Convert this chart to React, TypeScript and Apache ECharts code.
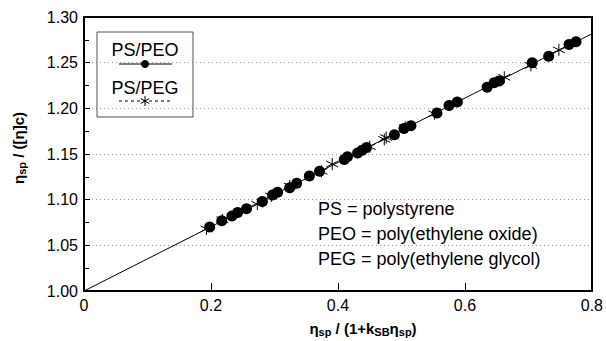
import React, { useEffect, useRef } from "react";
import * as echarts from "echarts";

// PS/PEO (filled circles)
const peoX = [0.198, 0.217, 0.233, 0.242, 0.256, 0.281, 0.297, 0.305, 0.324, 0.335, 0.355, 0.371, 0.41, 0.415, 0.431, 0.438, 0.445, 0.489, 0.504, 0.515, 0.556, 0.575, 0.588, 0.635, 0.646, 0.654, 0.706, 0.732, 0.764, 0.775];
const peoY = [1.07, 1.077, 1.082, 1.086, 1.09, 1.098, 1.105, 1.108, 1.113, 1.118, 1.126, 1.131, 1.144, 1.147, 1.151, 1.154, 1.157, 1.171, 1.178, 1.181, 1.195, 1.203, 1.207, 1.223, 1.228, 1.23, 1.25, 1.257, 1.27, 1.273];
// PS/PEG (asterisks)
const pegX = [0.193, 0.218, 0.273, 0.295, 0.324, 0.374, 0.391, 0.45, 0.473, 0.476, 0.506, 0.552, 0.662, 0.704, 0.748];
const pegY = [1.068, 1.078, 1.095, 1.104, 1.115, 1.131, 1.139, 1.158, 1.166, 1.168, 1.179, 1.194, 1.234, 1.247, 1.264];
// fitted straight line
const fitX = [0, 0.8];
const fitY = [1.0, 1.2816];

const xTicks = [0, 0.2, 0.4, 0.6, 0.8];
const yTicks = [1.0, 1.05, 1.1, 1.15, 1.2, 1.25, 1.3];
const notes = ["PS = polystyrene", "PEO = poly(ethylene oxide)", "PEG = poly(ethylene glycol)"];

const FONT = "'Liberation Sans', Arial, Helvetica, sans-serif";
const ASTER = "path://M0,-10 L0,10 M-8.66,-5 L8.66,5 M-8.66,5 L8.66,-5";

export default function App() {
  const ref = useRef<HTMLDivElement>(null);
  useEffect(() => {
    if (!ref.current) return;
    const chart = echarts.init(ref.current, null, { renderer: "svg" });
    const L = 84, R = 592, T = 17, B = 291;
    const sub = { fontSize: 11, fontWeight: "bold", fontFamily: FONT, verticalAlign: "bottom", padding: [8, 0, 0, 0] };
    const main = { fontSize: 15, fontWeight: "bold", fontFamily: FONT };
    const graphics: any[] = [
      // legend box
      { type: "rect", shape: { x: 97, y: 32, width: 96, height: 85 }, style: { fill: "none", stroke: "#555", lineWidth: 1 }, z: 10 },
      { type: "text", x: 145, y: 50, style: { text: "PS/PEO", font: `18px ${FONT}`, fill: "#000", align: "center", verticalAlign: "middle" }, z: 10 },
      { type: "line", shape: { x1: 119, y1: 64, x2: 172, y2: 64 }, style: { stroke: "#000", lineWidth: 1 }, z: 10 },
      { type: "circle", shape: { cx: 145, cy: 64, r: 4 }, style: { fill: "#000" }, z: 10 },
      { type: "text", x: 145, y: 88, style: { text: "PS/PEG", font: `18px ${FONT}`, fill: "#000", align: "center", verticalAlign: "middle" }, z: 10 },
      { type: "line", shape: { x1: 119, y1: 101, x2: 172, y2: 101 }, style: { stroke: "#000", lineWidth: 1, lineDash: [3, 3] }, z: 10 },
      { type: "line", shape: { x1: 145, y1: 96, x2: 145, y2: 106 }, style: { stroke: "#000", lineWidth: 1 }, z: 10 },
      { type: "line", shape: { x1: 140.7, y1: 98.5, x2: 149.3, y2: 103.5 }, style: { stroke: "#000", lineWidth: 1 }, z: 10 },
      { type: "line", shape: { x1: 140.7, y1: 103.5, x2: 149.3, y2: 98.5 }, style: { stroke: "#000", lineWidth: 1 }, z: 10 },
      // axis titles
      {
        type: "text", x: 363, y: 328,
        style: {
          text: "{m|η}{s|sp}{m| / (1+k}{s|SB}{m|η}{s|sp}{m|)}",
          rich: { m: main, s: sub }, align: "center", verticalAlign: "middle", fill: "#000",
        },
      },
      {
        type: "text", x: 18, y: 148, rotation: Math.PI / 2,
        style: {
          text: "{m|η}{s|sp}{m| / ([η]c)}",
          rich: { m: main, s: sub }, align: "center", verticalAlign: "middle", fill: "#000",
        },
      },
    ];
    notes.forEach((t, i) => {
      graphics.push({ type: "text", x: 318, y: 209 + i * 25, style: { text: t, font: `18px ${FONT}`, fill: "#000", align: "left", verticalAlign: "middle" }, z: 10 });
    });

    chart.setOption({
      animation: false,
      grid: { left: L, right: 606 - R, top: T, bottom: 341 - B },
      xAxis: [
        {
          type: "value", min: 0, max: 0.8, interval: 0.2,
          axisLine: { show: true, lineStyle: { color: "#000", width: 2 } },
          axisTick: { show: true, inside: true, length: 8, lineStyle: { color: "#000", width: 1 } },
          axisLabel: { fontSize: 16, color: "#000", fontFamily: FONT, margin: 6, formatter: (v: number) => (xTicks.includes(v) && v !== 0 ? v.toFixed(1) : "0") },
          splitLine: { show: false },
        },
        {
          type: "value", position: "top", min: 0, max: 0.8,
          axisLine: { show: true, onZero: false, lineStyle: { color: "#000", width: 2 } },
          axisTick: { show: false }, axisLabel: { show: false }, splitLine: { show: false },
        },
      ],
      yAxis: [
        {
          type: "value", min: 1.0, max: 1.3, interval: 0.05,
          axisLine: { show: true, lineStyle: { color: "#000", width: 2 } },
          axisTick: { show: true, inside: true, length: 6, lineStyle: { color: "#000", width: 1 } },
          minorTick: { show: true, splitNumber: 2, length: 5, lineStyle: { color: "#000", width: 1 } },
          axisLabel: { fontSize: 16, color: "#000", fontFamily: FONT, margin: 6, formatter: (v: number) => v.toFixed(2) },
          splitLine: { show: true, lineStyle: { color: "#999", width: 1, type: [1, 3] } },
        },
        {
          type: "value", position: "right", min: 1.0, max: 1.3,
          axisLine: { show: true, onZero: false, lineStyle: { color: "#000", width: 2 } },
          axisTick: { show: false }, axisLabel: { show: false }, splitLine: { show: false },
        },
      ],
      series: [
        {
          type: "line", data: fitX.map((x, i) => [x, fitY[i]]), showSymbol: false, symbol: "none",
          lineStyle: { color: "#000", width: 1 }, z: 2,
        },
        {
          type: "scatter", data: pegX.map((x, i) => [x, pegY[i]]), symbol: ASTER, symbolSize: 12,
          itemStyle: { color: "transparent", borderColor: "#000", borderWidth: 1, opacity: 1 }, z: 3,
        },
        {
          type: "scatter", data: peoX.map((x, i) => [x, peoY[i]]), symbol: "circle", symbolSize: 11,
          itemStyle: { color: "#000", opacity: 1 }, z: 4,
        },
      ],
      graphic: graphics,
    });
    return () => chart.dispose();
  }, []);
  return <div ref={ref} style={{ width: 606, height: 341, position: "absolute", left: 0, top: 0, background: "#fff" }} />;
}
